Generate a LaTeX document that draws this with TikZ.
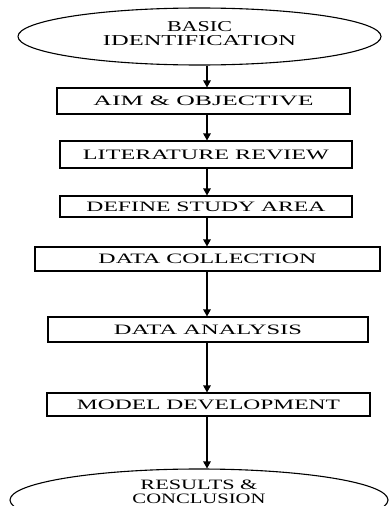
\documentclass[tikz,border=0pt]{standalone}
\usepackage{fontspec}
\setmainfont{Liberation Serif}
\usetikzlibrary{shapes.geometric,arrows.meta}
\newcommand{\sq}[3]{\resizebox{#1pt}{#2pt}{#3}}
\begin{document}
\begin{tikzpicture}[x=1pt,y=-1pt,
  stage/.style={draw, line width=1.1pt, inner sep=0pt},
  oval/.style={ellipse, draw, line width=1.1pt, inner sep=0pt},
  arr/.style={-{Triangle[length=7pt,width=7.5pt]}, line width=1.3pt},
  lbl/.style={align=center, inner sep=0pt}]
\useasboundingbox (0,0) rectangle (389,506);
\coordinate (ax) at (207,0);
\node[oval, minimum width=363pt, minimum height=57pt,
  label={[lbl, yshift=2.5pt]center:\sq{65}{10}{BASIC}\\[2pt]\sq{193}{10}{IDENTIFICATION}}] (e1) at (199.5,36.5) {};
\node[stage, minimum width=293pt, minimum height=26pt] (aim) at (203.5,101) {\sq{220}{9.5}{AIM \& OBJECTIVE}};
\node[stage, minimum width=292pt, minimum height=27pt] (lit) at (206,154.5) {\sq{246}{9.5}{LITERATURE REVIEW}};
\node[stage, minimum width=292pt, minimum height=21pt] (def) at (206,206.5) {\sq{239}{9.5}{DEFINE STUDY AREA}};
\node[stage, minimum width=345pt, minimum height=24pt] (dc) at (207.5,259) {\sq{218}{9.5}{DATA COLLECTION}};
\node[stage, minimum width=320pt, minimum height=25pt] (da) at (208,329.5) {\sq{188}{9.5}{DATA ANALYSIS}};
\node[stage, minimum width=323pt, minimum height=23pt] (md) at (208.5,404.5) {\sq{263}{9.5}{MODEL DEVELOPMENT}};
\node[oval, minimum width=378pt, minimum height=62pt,
  label={[lbl, yshift=8pt]center:\sq{117}{9.5}{RESULTS \&}\\[2pt]\sq{133}{9.5}{CONCLUSION}}] (e2) at (199,500) {};
\draw[arr] (e1.south -| ax) -- (aim.north -| ax);
\draw[arr] (aim.south -| ax) -- (lit.north -| ax);
\draw[arr] (lit.south -| ax) -- (def.north -| ax);
\draw[arr] (def.south -| ax) -- (dc.north -| ax);
\draw[arr] (dc.south -| ax) -- (da.north -| ax);
\draw[arr] (da.south -| ax) -- (md.north -| ax);
\draw[arr] (md.south -| ax) -- (e2.north -| ax);
\end{tikzpicture}
\end{document}
